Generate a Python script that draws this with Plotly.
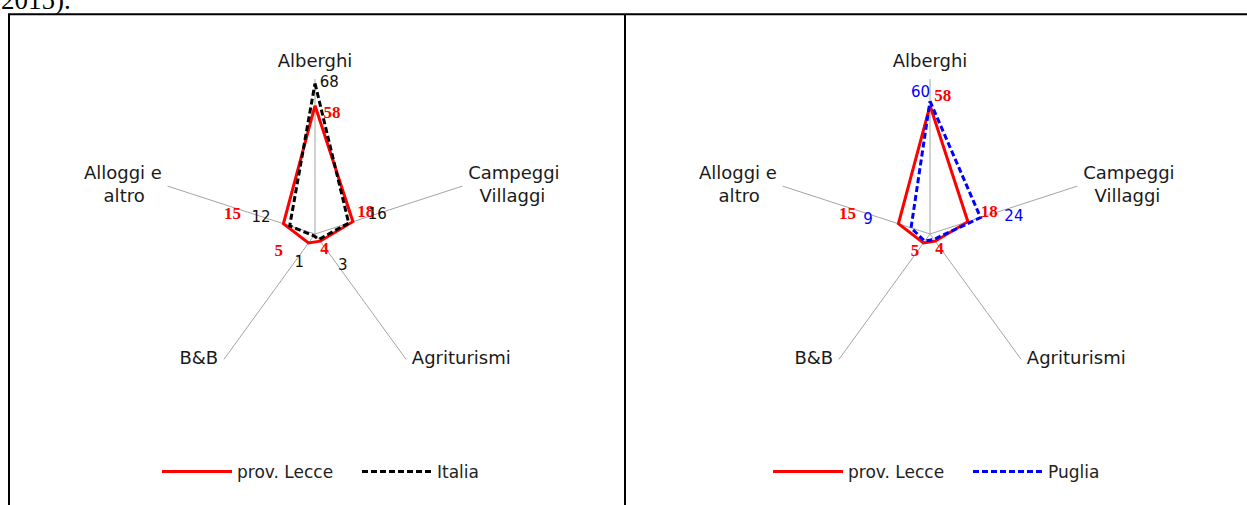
import plotly.graph_objects as go

# Dati: composizione % dei posti letto per tipologia ricettiva
categorie = ["Alberghi", "Campeggi Villaggi", "Agriturismi", "B&B", "Alloggi e altro"]
etichette = ["Alberghi", "\u00a0Campeggi<br>\u00a0\u00a0\u00a0Villaggi", "\u00a0Agriturismi", "B&B\u00a0",
             "Alloggi e\u00a0<br>altro\u00a0\u00a0\u00a0\u00a0"]
lecce = [58, 18, 4, 5, 15]
italia = [68, 16, 3, 1, 12]
puglia = [60, 24, 3, 4, 9]
r_max = 70  # fondo scala dei raggi

W, H = 1247, 505
NB = "\u00a0"


def chiudi(v):
    # ripete il primo punto per chiudere il poligono
    return list(v) + [v[0]], list(categorie) + [categorie[0]]


def testi(valori, pad):
    # pad: (spazi prima, spazi dopo, riga vuota sopra) per spostare l'etichetta
    out = []
    for v, p in zip(valori, pad):
        if p is None:
            out.append("")
            continue
        a, b = p[0], p[1]
        s = NB * a + str(v) + NB * b
        if len(p) > 2:
            s = "<br>" + s
        out.append(s)
    return out


fig = go.Figure()

# --- pannello sinistro: prov. Lecce vs Italia
r, t = chiudi(lecce)
fig.add_trace(go.Scatterpolar(r=r, theta=t, mode="lines", name="prov. Lecce",
                              line=dict(color="#ff0000", width=3), subplot="polar",
                              legend="legend"))
r, t = chiudi(italia)
fig.add_trace(go.Scatterpolar(r=r, theta=t, mode="lines", name="Italia",
                              line=dict(color="#000000", width=3, dash="6px,3px"),
                              subplot="polar", legend="legend"))

# --- pannello destro: prov. Lecce vs Puglia
r, t = chiudi(lecce)
fig.add_trace(go.Scatterpolar(r=r, theta=t, mode="lines", name="prov. Lecce",
                              line=dict(color="#ff0000", width=3), subplot="polar2",
                              legend="legend2"))
r, t = chiudi(puglia)
fig.add_trace(go.Scatterpolar(r=r, theta=t, mode="lines", name="Puglia",
                              line=dict(color="#0000ff", width=3, dash="6px,3px"),
                              subplot="polar2", legend="legend2"))

font_rosso = dict(family="Liberation Serif", size=17, color="#ff0000", weight="bold")
font_nero = dict(family="DejaVu Sans", size=15, color="#111111")
font_blu = dict(family="DejaVu Sans", size=15, color="#0000ff")

# etichette dei valori
fig.add_trace(go.Scatterpolar(
    r=lecce, theta=categorie, mode="text", subplot="polar", showlegend=False,
    text=testi(lecce, [(2, 0), (1, 0), (0, 0), (0, 6), (0, 10)]),
    textposition=["bottom right", "top right", "bottom right", "bottom left", "top left"],
    textfont=font_rosso, cliponaxis=False, hoverinfo="skip"))
fig.add_trace(go.Scatterpolar(
    r=italia, theta=categorie, mode="text", subplot="polar", showlegend=False,
    text=testi(italia, [(1, 0), (4, 0), (4, 0, 1), (0, 2, 1), (0, 4)]),
    textposition=["middle right", "top right", "bottom right", "bottom left", "top left"],
    textfont=font_nero, cliponaxis=False, hoverinfo="skip"))
fig.add_trace(go.Scatterpolar(
    r=lecce, theta=categorie, mode="text", subplot="polar2", showlegend=False,
    text=testi(lecce, [(1, 0), (3, 0), (0, 0), (0, 1), (0, 10)]),
    textposition=["top right", "top right", "bottom right", "bottom left", "top left"],
    textfont=font_rosso, cliponaxis=False, hoverinfo="skip"))
fig.add_trace(go.Scatterpolar(
    r=puglia, theta=categorie, mode="text", subplot="polar2", showlegend=False,
    text=testi(puglia, [(0, 0), (5, 0), None, None, (0, 8)]),
    textposition=["top left", "middle right", "bottom right", "bottom left", "top left"],
    textfont=font_blu, cliponaxis=False, hoverinfo="skip"))

# nomi delle categorie (tranne Alberghi, che e' etichetta dell'asse), in fondo ai raggi
pos_cat = ["middle right", "middle right", "middle left", "middle left"]
for sp in ["polar", "polar2"]:
    fig.add_trace(go.Scatterpolar(
        r=[r_max] * (len(categorie) - 1), theta=categorie[1:], mode="text", subplot=sp,
        showlegend=False, text=etichette[1:], textposition=pos_cat,
        textfont=dict(family="DejaVu Sans", size=18, color="#1a1a1a"),
        cliponaxis=False, hoverinfo="skip"))


def polare(x0, x1):
    return dict(
        domain=dict(x=[x0 / W, x1 / W], y=[1 - 389 / H, 1 - 79 / H]),
        bgcolor="white",
        radialaxis=dict(range=[0, r_max], visible=False),
        angularaxis=dict(direction="clockwise", rotation=90, showline=False,
                         showticklabels=True, ticks="outside", ticklen=4,
                         tickcolor="rgba(0,0,0,0)",
                         tickmode="array", tickvals=categorie,
                         ticktext=etichette[:1] + [""] * (len(categorie) - 1),
                         tickfont=dict(family="DejaVu Sans", size=18, color="#1a1a1a"),
                         showgrid=True, gridcolor="#a4a4a4", gridwidth=1,
                         categoryorder="array", categoryarray=categorie),
    )


legenda = dict(orientation="h", xanchor="center", yanchor="middle", y=1 - 472 / H,
               font=dict(family="DejaVu Sans", size=17, color="#222222"),
               bgcolor="rgba(0,0,0,0)", itemwidth=70, entrywidth=115,
               itemclick=False)

fig.update_layout(
    width=W, height=H,
    margin=dict(l=0, r=0, t=0, b=0),
    paper_bgcolor="white",
    polar=polare(160, 470),
    polar2=polare(775, 1085),
    legend=dict(legenda, x=357 / W),
    legend2=dict(legenda, x=968 / W),
    shapes=[
        dict(type="line", xref="paper", yref="paper", x0=8 / W, x1=1, y0=1 - 14.3 / H,
             y1=1 - 14.3 / H, line=dict(color="black", width=2)),
        dict(type="line", xref="paper", yref="paper", x0=9 / W, x1=9 / W, y0=0,
             y1=1 - 14.3 / H, line=dict(color="black", width=2)),
        dict(type="line", xref="paper", yref="paper", x0=625 / W, x1=625 / W, y0=0,
             y1=1 - 14.3 / H, line=dict(color="black", width=2)),
    ],
    annotations=[
        dict(text="2015).", xref="paper", yref="paper", x=73 / W, y=1 - 17 / H,
             xanchor="right", yanchor="bottom", showarrow=False,
             font=dict(family="Liberation Serif", size=27, color="black")),
    ],
)

# pagina senza margini, come l'immagine di riferimento
fig.write_html("out.html", config={"displayModeBar": False},
               post_script="document.body.style.margin='0px';")
